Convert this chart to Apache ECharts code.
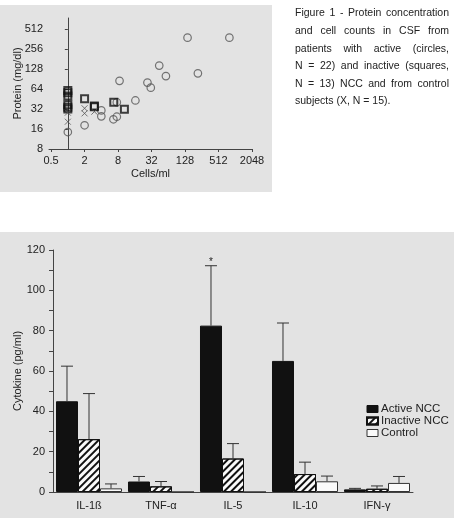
<!DOCTYPE html>
<html>
<head>
<meta charset="utf-8">
<script src="https://cdn.jsdelivr.net/npm/echarts@6/dist/echarts.min.js"></script>
<style>
  html, body { margin: 0; padding: 0; background: #fff; }
  #chart { width: 454px; height: 520px; }
</style>
</head>
<body>
<div id="chart"></div>
<script>
// --- figure 1: CSF cells/ml vs protein mg/dl (log2 axes) ---
const activeCells     = [1, 2, 4, 4, 6.6, 7.6, 7.6, 8.5, 16.4, 27, 31, 44, 58, 142, 218, 803];
const activeProtein   = [14.4, 18.2, 30.5, 24.8, 22.4, 24.5, 40.4, 85, 43, 80, 67, 144, 100, 379, 110, 379];
const inactiveCells   = [1, 1, 1, 1, 1, 1, 2, 3, 3, 6.7, 10.4];
const inactiveProtein = [61, 56, 50, 37, 34, 32, 45.7, 35.5, 34.5, 40.4, 31.7];
const controlCells    = [1, 1, 2, 2, 3];
const controlProtein  = [28.2, 20.6, 32.8, 27.5, 29.2];
const cellTicks    = [0.5, 2, 8, 32, 128, 512, 2048];
const proteinTicks = [8, 16, 32, 64, 128, 256, 512];

const captionLines = [
  'Figure 1 - Protein concentration',
  'and cell counts in CSF from',
  'patients with active (circles,',
  'N = 22) and inactive (squares,',
  'N = 13) NCC and from control',
  'subjects (X, N = 15).'
];

// --- cytokine bars (mean + upper error) ---
const cytokines    = ['IL-1ß', 'TNF-α', 'IL-5', 'IL-10', 'IFN-γ'];
const activeMean   = [45, 5.2, 82.5, 65, 1.3];
const activeErr    = [17.4, 2.5, 29.7, 18.8, 0.5];
const inactiveMean = [26.2, 2.8, 16.6, 8.9, 1.6];
const inactiveErr  = [22.6, 2.4, 7.4, 5.9, 1.4];
const controlMean  = [1.8, 0, 0, 5.3, 4.5];
const controlErr   = [2.2, 0, 0, 2.6, 3.2];
const activeMarks  = ['', '', '*', '', ''];

const FONT = '"Liberation Sans", Arial, Helvetica, sans-serif';
const TXT = '#222';
const BG = '#e3e3e3';
const CAT_GAP = 0.083;

const chart = echarts.init(document.getElementById('chart'));

const toPts = (xs, ys) => xs.map((c, i) => [Math.log2(c), Math.log2(ys[i])]);
const pow2 = v => String(Math.pow(2, v));

// justified caption, one text element per word
function captionText() {
  const ctx = document.createElement('canvas').getContext('2d');
  const font = '10.5px ' + FONT;
  ctx.font = font;
  const left = 295, right = 449, top = 13.5, lh = 17.6;
  const out = [];
  captionLines.forEach((line, li) => {
    const words = line.split(' ');
    const y = top + li * lh;
    const widths = words.map(w => ctx.measureText(w).width);
    const total = widths.reduce((a, b) => a + b, 0);
    const last = li === captionLines.length - 1;
    const gap = last ? ctx.measureText(' ').width : (right - left - total) / (words.length - 1);
    let x = left;
    words.forEach((w, i) => {
      out.push({ type: 'text', x: x, y: y, z: 5,
        style: { text: w, font: font, fill: TXT, verticalAlign: 'middle' } });
      x += widths[i] + gap;
    });
  });
  return out;
}

function errorSeries(name, means, errs, k, marks) {
  return {
    type: 'custom',
    xAxisIndex: 1, yAxisIndex: 1,
    z: 5,
    silent: true,
    data: means.map((m, i) => [i, m, m + errs[i]]),
    renderItem: (params, api) => {
      const i = api.value(0);
      const lo = api.value(1), hi = api.value(2);
      const children = [];
      const band = api.size([1, 0])[0];
      const bw = band * (1 - CAT_GAP) / 3;
      const base = api.coord([i, lo]);
      const top = api.coord([i, hi]);
      const x = base[0] + (k - 1) * bw;
      if (hi > lo) {
        const ls = { stroke: '#333', lineWidth: 1 };
        children.push({ type: 'line', shape: { x1: x, y1: base[1], x2: x, y2: top[1] }, style: ls });
        children.push({ type: 'line', shape: { x1: x - 6, y1: top[1], x2: x + 6, y2: top[1] }, style: ls });
      }
      if (marks && marks[i]) {
        children.push({ type: 'text', x: x, y: top[1] - 3,
          style: { text: marks[i], font: '10px ' + FONT, fill: TXT, align: 'center', verticalAlign: 'middle' } });
      }
      return { type: 'group', children: children };
    }
  };
}

const hatch = {
  symbol: 'rect', symbolSize: 1, color: '#111',
  dashArrayX: [1, 0], dashArrayY: [1.4, 2.4], rotation: -Math.PI / 4
};

const option = {
  animation: false,
  backgroundColor: '#fff',
  textStyle: { fontFamily: FONT, color: TXT },
  graphic: [
    { type: 'rect', z: -10, shape: { x: 0, y: 5, width: 272, height: 187 }, style: { fill: BG } },
    { type: 'rect', z: -10, shape: { x: 0, y: 232, width: 454, height: 286 }, style: { fill: BG } }
  ].concat(captionText()),
  legend: {
    orient: 'vertical',
    left: 361, top: 403,
    padding: [0, 5],
    itemWidth: 11, itemHeight: 7, itemGap: 0,
    icon: 'rect',
    textStyle: { fontSize: 11.5, lineHeight: 11, color: TXT, fontFamily: FONT, padding: [0, 0, 0, -2] },
    data: [
      { name: 'Active NCC', itemStyle: { color: '#111', borderColor: '#111', borderWidth: 1 } },
      { name: 'Inactive NCC' },
      { name: 'Control', itemStyle: { color: '#fafafa', borderColor: '#333', borderWidth: 1 } }
    ]
  },
  grid: [
    { left: 49, right: 202, top: 18, bottom: 371 },
    { left: 53, right: 41, top: 250, bottom: 28 }
  ],
  xAxis: [
    {
      type: 'value', gridIndex: 0,
      min: -1.125, max: 11,
      name: 'Cells/ml', nameLocation: 'middle', nameGap: 19,
      nameTextStyle: { fontSize: 11, color: TXT },
      axisLine: { lineStyle: { color: '#444' } },
      axisTick: { length: 3, lineStyle: { color: '#444' }, customValues: cellTicks.map(Math.log2) },
      axisLabel: { fontSize: 11, color: TXT, margin: 6, formatter: pow2, customValues: cellTicks.map(Math.log2) },
      splitLine: { show: false }
    },
    {
      type: 'category', gridIndex: 1, data: cytokines,
      axisLine: { lineStyle: { color: '#444' } },
      axisTick: { alignWithLabel: true, length: 3, lineStyle: { color: '#444' } },
      axisLabel: { fontSize: 11, color: TXT, margin: 8 }
    }
  ],
  yAxis: [
    {
      type: 'value', gridIndex: 0,
      min: 3, max: 9.55,
      name: 'Protein (mg/dl)', nameLocation: 'middle', nameGap: 26, nameMoveOverlap: false,
      nameTextStyle: { fontSize: 11, color: TXT },
      axisLine: { show: true, lineStyle: { color: '#444' } },
      axisTick: { show: true, length: 3, lineStyle: { color: '#444' }, customValues: proteinTicks.map(Math.log2) },
      axisLabel: { fontSize: 11, color: TXT, margin: 6, formatter: pow2, customValues: proteinTicks.map(Math.log2) },
      splitLine: { show: false }
    },
    {
      type: 'value', gridIndex: 1,
      min: 0, max: 120, interval: 20,
      name: 'Cytokine (pg/ml)', nameLocation: 'middle', nameGap: 30, nameMoveOverlap: false,
      nameTextStyle: { fontSize: 11, color: TXT },
      axisLine: { show: true, lineStyle: { color: '#444' } },
      axisTick: { show: true, length: 4, lineStyle: { color: '#444' } },
      minorTick: { show: true, splitNumber: 2, length: 4, lineStyle: { color: '#444' } },
      axisLabel: { fontSize: 11, color: TXT, margin: 8 },
      splitLine: { show: false }
    }
  ],
  series: [
    {
      name: 'active', type: 'scatter', xAxisIndex: 0, yAxisIndex: 0,
      data: toPts(activeCells, activeProtein),
      symbol: 'circle', symbolSize: 7.5,
      itemStyle: { color: 'transparent', borderColor: '#555', borderWidth: 1.2 }
    },
    {
      name: 'inactive', type: 'scatter', xAxisIndex: 0, yAxisIndex: 0,
      data: toPts(inactiveCells, inactiveProtein),
      symbol: 'rect', symbolSize: 7,
      itemStyle: { color: 'transparent', borderColor: '#111', borderWidth: 2 }
    },
    {
      name: 'control', type: 'scatter', xAxisIndex: 0, yAxisIndex: 0,
      data: toPts(controlCells, controlProtein),
      symbol: 'path://M0,0L10,10M10,0L0,10', symbolSize: 6,
      itemStyle: { color: 'transparent', borderColor: '#555', borderWidth: 1 }
    },
    {
      name: 'Active NCC', type: 'bar', xAxisIndex: 1, yAxisIndex: 1,
      data: activeMean, barGap: 0, barCategoryGap: (CAT_GAP * 100) + '%',
      itemStyle: { color: '#111', borderColor: '#111', borderWidth: 1 }
    },
    {
      name: 'Inactive NCC', type: 'bar', xAxisIndex: 1, yAxisIndex: 1,
      data: inactiveMean, barGap: 0, barCategoryGap: (CAT_GAP * 100) + '%',
      itemStyle: { color: '#fafafa', borderColor: '#111', borderWidth: 1, decal: hatch }
    },
    {
      name: 'Control', type: 'bar', xAxisIndex: 1, yAxisIndex: 1,
      data: controlMean, barGap: 0, barCategoryGap: (CAT_GAP * 100) + '%',
      itemStyle: { color: '#fafafa', borderColor: '#333', borderWidth: 1 }
    },
    errorSeries('activeErr', activeMean, activeErr, 0, activeMarks),
    errorSeries('inactiveErr', inactiveMean, inactiveErr, 1, null),
    errorSeries('controlErr', controlMean, controlErr, 2, null)
  ]
};

chart.setOption(option);
</script>
</body>
</html>
